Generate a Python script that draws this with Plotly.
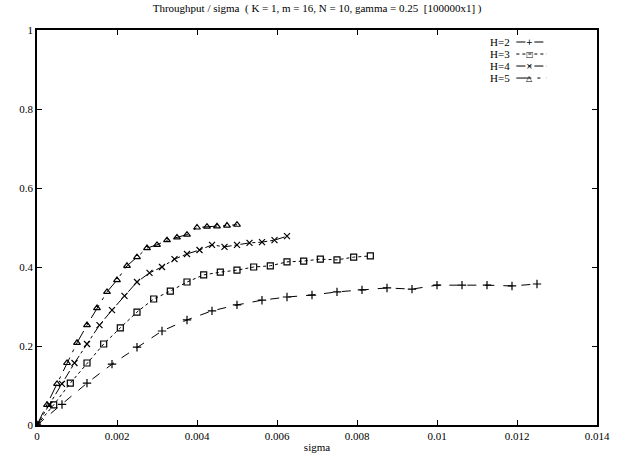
import plotly.graph_objects as go

# sigma values (x) per series
sigma_h2 = [0, 0.000625, 0.00125, 0.001875, 0.0025, 0.003125, 0.00375, 0.004375, 0.005, 0.005625,
            0.00625, 0.006875, 0.0075, 0.008125, 0.00875, 0.009375, 0.01, 0.010625, 0.01125, 0.011875, 0.0125]
thr_h2 = [0, 0.052, 0.106, 0.154, 0.197, 0.238, 0.266, 0.289, 0.304, 0.316,
          0.324, 0.329, 0.337, 0.342, 0.347, 0.344, 0.354, 0.354, 0.354, 0.352, 0.357]

sigma_h3 = [0, 0.000417, 0.000833, 0.00125, 0.001667, 0.002083, 0.0025, 0.002917, 0.003333, 0.00375,
            0.004167, 0.004583, 0.005, 0.005417, 0.005833, 0.00625, 0.006667, 0.007083, 0.0075, 0.007917, 0.008333]
thr_h3 = [0, 0.051, 0.106, 0.157, 0.205, 0.246, 0.286, 0.319, 0.339, 0.362,
          0.380, 0.387, 0.392, 0.400, 0.403, 0.413, 0.415, 0.420, 0.418, 0.425, 0.428]

sigma_h4 = [0, 0.0003125, 0.000625, 0.0009375, 0.00125, 0.0015625, 0.001875, 0.0021875, 0.0025, 0.0028125,
            0.003125, 0.0034375, 0.00375, 0.0040625, 0.004375, 0.0046875, 0.005, 0.0053125, 0.005625, 0.0059375, 0.00625]
thr_h4 = [0, 0.052, 0.104, 0.157, 0.205, 0.253, 0.291, 0.327, 0.362, 0.385,
          0.400, 0.420, 0.433, 0.443, 0.456, 0.451, 0.456, 0.461, 0.463, 0.468, 0.478]

sigma_h5 = [0, 0.00025, 0.0005, 0.00075, 0.001, 0.00125, 0.0015, 0.00175, 0.002, 0.00225,
            0.0025, 0.00275, 0.003, 0.00325, 0.0035, 0.00375, 0.004, 0.00425, 0.0045, 0.00475, 0.005]
thr_h5 = [0, 0.051, 0.104, 0.157, 0.208, 0.253, 0.296, 0.337, 0.367, 0.403,
          0.425, 0.448, 0.456, 0.468, 0.475, 0.482, 0.500, 0.502, 0.503, 0.505, 0.507]

names = ["H=2", "H=3", "H=4", "H=5"]
legend_glyphs = ["+", "□", "×", "△"]
x_ticks = [0, 0.002, 0.004, 0.006, 0.008, 0.01, 0.012, 0.014]
x_tick_text = ["0", "0.002", "0.004", "0.006", "0.008", "0.01", "0.012", "0.014"]
y_ticks = [0, 0.2, 0.4, 0.6, 0.8, 1]
y_tick_text = ["0", "0.2", "0.4", "0.6", "0.8", "1"]

series = [
    (sigma_h2, thr_h2, "dash", "cross-thin", 6),
    (sigma_h3, thr_h3, "dot", "square-open", 6),
    (sigma_h4, thr_h4, "dashdot", "x-thin", 6),
    (sigma_h5, thr_h5, "longdashdot", "triangle-up-open", 6),
]

serif = "Liberation Serif, Times New Roman, serif"
font = dict(family=serif, size=11, color="black")

fig = go.Figure()
for (xs, ys, dash, sym, sz), nm in zip(series, names):
    fig.add_trace(go.Scatter(
        x=xs, y=ys, name=nm, mode="lines+markers", showlegend=False,
        line=dict(color="black", width=1, dash=dash),
        marker=dict(symbol=sym, size=sz, color="black",
                    line=dict(color="black", width=1.2)),
    ))

# Key in the upper right: label on the left, line sample with marker on the right
for i, ((xs, ys, dash, sym, sz), nm, g) in enumerate(zip(series, names, legend_glyphs)):
    yk = 0.9696 - i * 0.0304
    fig.add_annotation(x=0.847, y=yk, xref="paper", yref="paper", text=nm,
                       showarrow=False, xanchor="right", yanchor="middle", borderpad=0,
                       font=dict(family=serif, size=11, color="black"))
    fig.add_shape(type="line", xref="paper", yref="paper", x0=0.856, x1=0.910, y0=yk, y1=yk,
                  line=dict(color="black", width=1, dash=dash))
    fig.add_annotation(x=0.880, y=yk, xref="paper", yref="paper", text=g,
                       showarrow=False, xanchor="center", yanchor="middle", borderpad=0,
                       font=dict(family="DejaVu Sans", size=8, color="black"))

fig.update_layout(
    width=628, height=455,
    margin=dict(l=37, r=31, t=30, b=30),
    paper_bgcolor="white", plot_bgcolor="white",
    font=font,
    title=dict(text="Throughput / sigma  ( K = 1, m = 16, N = 10, gamma = 0.25  [100000x1] )",
               x=0.505, xanchor="center", y=0.99, yanchor="top",
               font=dict(family=serif, size=11, color="black")),
    showlegend=False,
)
fig.update_xaxes(range=[0, 0.014], tickvals=x_ticks, ticktext=x_tick_text, automargin=False,
                 ticks="inside", ticklen=5, tickcolor="black", showgrid=False, zeroline=False,
                 showline=True, linecolor="black", linewidth=1.5, mirror="ticks",
                 title=dict(text="sigma", standoff=2, font=font), tickfont=font)
fig.update_yaxes(range=[0, 1], tickvals=y_ticks, ticktext=y_tick_text, automargin=False,
                 ticks="inside", ticklen=5, tickcolor="black", showgrid=False, zeroline=False,
                 showline=True, linecolor="black", linewidth=1.5, mirror="ticks",
                 tickfont=font)

fig.write_html("out.html", config={"displayModeBar": False},
               post_script="document.body.style.margin='0';document.body.style.padding='0';")
